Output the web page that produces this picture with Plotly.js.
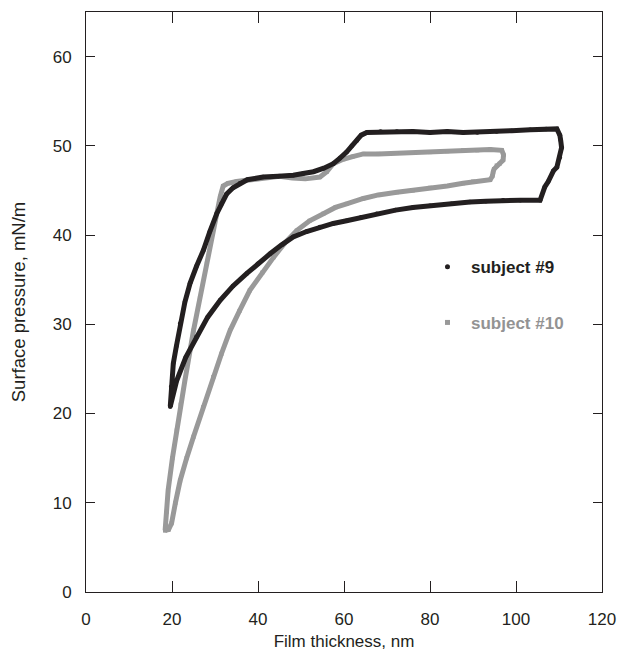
<!DOCTYPE html>
<html>
<head>
<meta charset="utf-8">
<script src="https://cdn.plot.ly/plotly-3.0.1.min.js"></script>
<style>html,body{margin:0;padding:0;background:#fff;}#chart{width:619px;height:651px;}</style>
</head>
<body>
<div id="chart"></div>
<script>
// Subject #9 loop (film thickness nm, surface pressure mN/m)
const s9x = [19.6,21.1,23.2,25.7,28.3,31.2,34.2,37.4,40,42.8,45.5,48.2,51.3,54.4,57.5,60.6,64,67.6,72,76,80,85,89.3,93,97,101,105.6,
  106.7,107.5,108.7,109.5,110.2,110.6,110.4,110.2,109.5,
  107,103.3,99,95.5,91,87.7,84,80,76,72.3,68.5,65.3,64,63,61.8,60.6,59,57.5,55.3,52.9,50.5,48.2,44.7,41.2,37.5,35.8,34.2,
  32.7,31.5,30.4,28.8,27.3,25.7,24.2,23,21.9,21,20.3,19.8,19.6];
const s9y = [20.8,23.7,26.3,28.6,30.8,32.7,34.3,35.7,36.8,37.9,38.9,39.8,40.4,40.9,41.3,41.6,42,42.4,42.8,43.1,43.3,43.5,43.7,43.8,43.9,43.9,43.9,
  45.4,46.0,47.2,47.6,48.7,49.8,50.6,51.2,51.9,
  51.9,51.8,51.7,51.6,51.5,51.5,51.6,51.5,51.6,51.6,51.6,51.5,51.2,50.6,50,49.3,48.6,48,47.5,47.1,46.9,46.7,46.6,46.5,46.2,45.8,45.3,
  44.6,43.5,42.4,40.4,38.3,36.5,34.6,32.5,30.1,27.5,25.6,23,20.8];
// Subject #10 loop
const s10x = [18.4,18.8,19.1,20.1,21.1,22,23,25,26.5,28.1,29.3,30.4,31.2,31.9,33,35,38,41.2,45,48,51,54.4,56,57.5,59.8,62,64.5,68,72.3,76,80,84,87.7,91,94,96.7,
  97.1,97,96.2,95.5,94.9,94.7,94.5,94,
  90,87.7,84,80,76,72.3,68,64.5,60.6,58,55.2,52,49,46.2,43.6,41,38.1,35.7,33.5,31.5,29.6,27.2,25,23.4,21.9,20.8,19.9,19.2,18.4];
const s10y = [6.9,9,11.4,15,18.1,21,23.7,29.3,33,36.8,39.6,42.4,44.3,45.5,45.8,46,46.2,46.4,46.6,46.4,46.3,46.5,47.1,48,48.5,48.8,49.1,49.1,49.2,49.2,49.3,49.4,49.5,49.5,49.6,49.5,
  49,48.4,48,47.8,47.4,47.1,46.6,46.2,
  46,45.8,45.5,45.3,45,44.8,44.5,44.1,43.5,43.1,42.4,41.6,40.5,39.1,37.5,35.8,33.8,31.5,29.3,26.7,24.1,20.7,17.4,15,12.5,10,7.7,7,6.9];
const seriesNames = ['subject #9','subject #10'];
const xTicks = [0,20,40,60,80,100,120];
const yTicks = [0,10,20,30,40,50,60];

const BLACK = '#231f20', GRAY = '#999999';
const FONT = 'Liberation Sans, Arial, sans-serif';

const traces = [
  {x:s10x, y:s10y, mode:'lines+markers', line:{color:GRAY, width:5}, marker:{symbol:'square', size:4, color:GRAY}, showlegend:false, hoverinfo:'skip'},
  {x:s9x, y:s9y, mode:'lines+markers', line:{color:BLACK, width:5}, marker:{symbol:'circle', size:4.5, color:BLACK}, showlegend:false, hoverinfo:'skip'},
  {x:[null], y:[null], mode:'markers', name:seriesNames[0], marker:{symbol:'circle', size:5, color:BLACK}, legend:'legend'},
  {x:[null], y:[null], mode:'markers', name:seriesNames[1], marker:{symbol:'square', size:5, color:GRAY}, legend:'legend2'}
];

const axisCommon = {
  showgrid:false, zeroline:false, showline:true, linecolor:BLACK, linewidth:1,
  mirror:'ticks', ticks:'inside', tickcolor:BLACK, tickwidth:1,
  tickfont:{family:FONT, size:17, color:'#231f20'}
};

const layout = {
  width:619, height:651,
  margin:{l:86, r:17, t:12, b:59},
  paper_bgcolor:'#fff', plot_bgcolor:'#fff',
  font:{family:FONT},
  xaxis: Object.assign({}, axisCommon, {
    range:[0,120], tickvals:xTicks, ticktext:xTicks.map(String), ticklen:11, ticklabelstandoff:12,
    title:{text:'Film thickness, nm', font:{family:FONT, size:17, color:'#231f20'}, standoff:10}
  }),
  yaxis: Object.assign({}, axisCommon, {
    range:[0,65], tickvals:yTicks, ticktext:yTicks.map(String), ticklen:9, ticklabelstandoff:10,
    title:{text:'Surface pressure, mN/m', font:{family:FONT, size:18.5, color:'#231f20'}, standoff:22}
  }),
  legend:{x:0.655, xanchor:'left', y:0.56, yanchor:'middle', bgcolor:'rgba(0,0,0,0)', itemwidth:37,
    font:{family:FONT, size:17, color:BLACK, weight:'bold'}},
  legend2:{x:0.655, xanchor:'left', y:0.464, yanchor:'middle', bgcolor:'rgba(0,0,0,0)', itemwidth:37,
    font:{family:FONT, size:17, color:'#939393', weight:'bold'}}
};

Plotly.newPlot('chart', traces, layout, {displayModeBar:false, staticPlot:true});
</script>
</body>
</html>
